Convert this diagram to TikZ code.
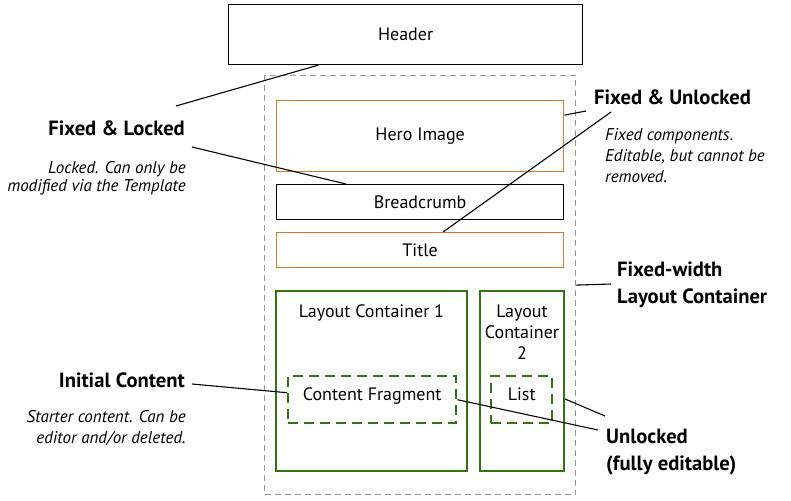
\documentclass[tikz,border=0pt]{standalone}
\usepackage{fontspec}
\setmainfont{PT Sans}
\usetikzlibrary{positioning}
\definecolor{heroorange}{RGB}{212,122,48}
\definecolor{lcgreen}{RGB}{50,115,18}
\definecolor{dashgray}{RGB}{150,150,150}
\newcommand\boxfont{\fontsize{18}{21}\selectfont}
\newcommand\headfont{\fontsize{20.6}{27}\selectfont\bfseries}
\newcommand\notefont{\fontsize{17}{18.5}\selectfont\itshape}
\tikzset{
  area/.style={anchor=north west, inner sep=0pt, font=\boxfont, align=center},
  plainbox/.style={area, draw=black, line width=1.2pt},
  herobox/.style={area, draw=heroorange, line width=1.3pt},
  outerbox/.style={area, draw=dashgray, line width=1.2pt, dash pattern=on 6pt off 4pt},
  lcbox/.style={area, draw=lcgreen, line width=2pt},
  fragbox/.style={area, draw=lcgreen, line width=2.4pt, dash pattern=on 10pt off 6pt,
                  text height=13pt, text depth=11pt},
  heading/.style={inner sep=0pt, font=\headfont},
  note/.style={inner sep=0pt, font=\notefont},
  callout/.style={draw=black, line width=1.1pt}
}
\begin{document}
\begin{tikzpicture}[x=1pt,y=-1pt]
\useasboundingbox (0,0) rectangle (791,500);

% page areas
\node (header) [plainbox, minimum width=354pt, minimum height=60pt] at (228,4) {Header};
\node (outer)  [outerbox, minimum width=311pt, minimum height=419pt] at (264,75) {};
\node (hero)   [herobox, minimum width=287pt, minimum height=71pt] at (276,100) {Hero Image};
\node (crumb)  [plainbox, minimum width=287pt, minimum height=35pt] at (276,184) {Breadcrumb};
\node (title)  [herobox, minimum width=287pt, minimum height=35pt] at (276,232) {Title};
\node (lc1)    [lcbox, minimum width=191pt, minimum height=180pt,
                label={[font=\boxfont, anchor=north, yshift=-11pt]north:Layout Container 1}] at (275,290) {};
\node (lc2)    [lcbox, minimum width=84pt, minimum height=180pt,
                label={[font=\boxfont, align=center, anchor=north, yshift=-11pt]north:Layout\\Container\\2}] at (479,290) {};
\node (frag)   [fragbox, minimum width=168pt, minimum height=47pt] at (287,375) {Content Fragment};
\node (list)   [fragbox, minimum width=61pt, minimum height=47pt] at (490,375) {List};

% left side labels
\node (lockedhead) [heading, anchor=east] at (185,128) {Fixed \& Locked};
\node (lockednote) [note, anchor=north east, align=right] at (186,161) {Locked. Can only be\\modified via the Template};
\node (inithead)   [heading, anchor=east] at (185,380) {Initial Content};
\node (initnote)   [note, anchor=north east, align=right, font=\fontsize{17}{21}\selectfont\itshape] at (186,410) {Starter content. Can be\\editor and/or deleted.};

% right side labels
\node (fixedhead)  [heading, anchor=west] at (594,97) {Fixed \& Unlocked};
\node (fixednote)  [note, anchor=north west, align=left, font=\fontsize{17}{21}\selectfont\itshape] at (605,128) {Fixed components.\\Editable, but cannot be\\removed.};
\node (widthhead)  [heading, anchor=north west, align=left] at (617,262) {Fixed-width\\Layout Container};
\node (openhead)   [heading, anchor=north west, align=left] at (606,429) {Unlocked\\(fully editable)};

% free ends of the callouts
\coordinate (hdrtip)   at (176,106);
\coordinate (locktip)  at (192,147);
\coordinate (herotip)  at (586,111);
\coordinate (titletip) at (611,112);
\coordinate (widthtip) at (611,284);
\coordinate (inittip)  at (192,384);
\coordinate (fragtip)  at (598,430);
\coordinate (listtip)  at (605,416);

\draw [callout] ([xshift=90pt]header.south west) -- (hdrtip);
\draw [callout] (locktip) -- ([xshift=70pt]crumb.north west);
\draw [callout] ([yshift=21pt]hero.east) -- (herotip);
\draw [callout] (titletip) -- ([xshift=167pt]title.north west);
\draw [callout] (outer.east) -- (widthtip);
\draw [callout] (inittip) -- ([yshift=7pt]frag.west);
\draw [callout] (frag.east) -- (fragtip);
\draw [callout] ([yshift=-18pt]lc2.east) -- (listtip);
\end{tikzpicture}
\end{document}
